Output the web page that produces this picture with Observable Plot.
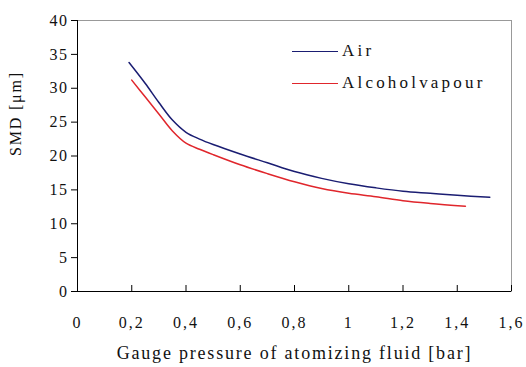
<!DOCTYPE html>
<html>
<head>
<meta charset="utf-8">
<script src="https://cdn.jsdelivr.net/npm/d3@7"></script>
<script src="https://cdn.jsdelivr.net/npm/@observablehq/plot@0.6"></script>
<style>
  body { margin: 0; background: #fff; }
  #wrap { position: relative; width: 526px; height: 367px; font-family: "Liberation Serif", "DejaVu Serif", serif; }
  #legend { position: absolute; left: 292px; top: 35px; font-size: 17px; letter-spacing: 3.2px; color: #111; }
  #legend div { display: flex; align-items: center; height: 32px; }
  #legend span.sw { display: inline-block; width: 46px; height: 0; border-top: 1.5px solid; margin-right: 4px; }
  svg text { fill: #111; }
</style>
</head>
<body>
<div id="wrap"><div id="legend"></div></div>
<script>
const airX = [0.19, 0.25, 0.30, 0.35, 0.40, 0.45, 0.50, 0.60, 0.70, 0.80, 0.90, 1.00, 1.10, 1.20, 1.30, 1.40, 1.52];
const airY = [33.8, 30.7, 27.9, 25.3, 23.5, 22.5, 21.7, 20.3, 19.0, 17.7, 16.7, 15.9, 15.3, 14.8, 14.5, 14.2, 13.9];
const alcX = [0.20, 0.25, 0.30, 0.35, 0.40, 0.45, 0.50, 0.60, 0.70, 0.80, 0.90, 1.00, 1.10, 1.20, 1.30, 1.43];
const alcY = [31.2, 28.7, 26.2, 23.7, 21.9, 21.0, 20.2, 18.7, 17.4, 16.2, 15.2, 14.5, 14.0, 13.4, 13.0, 12.6];
const seriesNames = ["Air", "Alcohol vapour"];
const seriesLabels = ["Air", "Alcoholvapour"];
const seriesColors = ["#1a1d72", "#e0262c"];
const xTicks = [0, 0.2, 0.4, 0.6, 0.8, 1, 1.2, 1.4, 1.6];
const yTicks = [0, 5, 10, 15, 20, 25, 30, 35, 40];
const xTitle = "Gauge pressure of atomizing fluid [bar]";
const yTitle = "SMD [μm]";

const data = [
  ...airX.map((x, i) => ({x, y: airY[i], s: seriesNames[0]})),
  ...alcX.map((x, i) => ({x, y: alcY[i], s: seriesNames[1]}))
];
const fmt = d => String(d).replace(".", ",");

const chart = Plot.plot({
  width: 526, height: 367,
  marginLeft: 77, marginRight: 15, marginTop: 20, marginBottom: 76,
  style: {fontFamily: "Liberation Serif, serif", fontSize: "16px", background: "transparent"},
  x: {domain: [0, 1.6]},
  y: {domain: [0, 40]},
  color: {domain: seriesNames, range: seriesColors},
  marks: [
    Plot.frame({stroke: "#999"}),
    Plot.axisY(yTicks, {tickSize: 6, tickPadding: 3, tickFormat: fmt, label: null, fontSize: 16}),
    Plot.axisX(xTicks, {tickSize: 0, tickPadding: 25, tickFormat: fmt, label: null, fontSize: 16}),
    Plot.tickX(xTicks, {x: d => d, insetTop: 265, stroke: "#000"}),
    Plot.ruleX([0], {stroke: "#000"}),
    Plot.ruleY([0], {stroke: "#000"}),
    Plot.line(data, {x: "x", y: "y", z: "s", stroke: "s", strokeWidth: 1.5, curve: "catmull-rom"}),
    Plot.text([xTitle], {frameAnchor: "bottom", dy: 67, fontSize: 18}),
    Plot.text([yTitle], {frameAnchor: "left", dx: -62, rotate: -90, fontSize: 16})
  ]
});
const sel = d3.select(chart);
sel.selectAll('g[aria-label="x-axis tick label"] text').style("letter-spacing", "2px");
sel.selectAll('g[aria-label="y-axis tick label"] text').style("letter-spacing", "1.5px");
sel.selectAll('g[aria-label="text"] text').style("letter-spacing", "1.8px");
document.getElementById("wrap").prepend(chart);
const leg = document.getElementById("legend");
seriesLabels.forEach((name, i) => {
  const row = document.createElement("div");
  row.innerHTML = `<span class="sw" style="border-color:${seriesColors[i]}"></span>${name}`;
  leg.appendChild(row);
});
</script>
</body>
</html>
